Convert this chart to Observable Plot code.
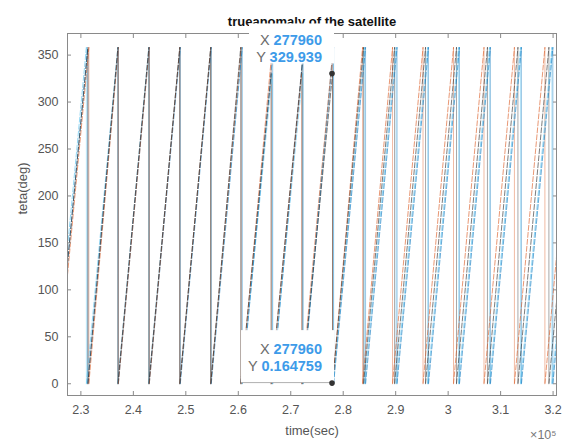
<!DOCTYPE html>
<html><head><meta charset="utf-8">
<script src="https://cdn.jsdelivr.net/npm/d3@7"></script>
<script src="https://cdn.jsdelivr.net/npm/@observablehq/plot@0.6"></script>
<style>
body{margin:0;background:#fff;}
#chart{width:567px;height:441px;}
</style></head><body><div id="chart"></div>
<script>
// ---- data ----
const xDomain = [227450, 320650];
const yDomain = [-12.5, 373];
const xTicks = [230000, 240000, 250000, 260000, 270000, 280000, 290000, 300000, 310000, 320000];
const xTickLabels = ["2.3", "2.4", "2.5", "2.6", "2.7", "2.8", "2.9", "3", "3.1", "3.2"];
const yTicks = [0, 50, 100, 150, 200, 250, 300, 350];

const seriesNames = ["lightblue", "blue", "orange", "black"];
// wrap times: value drops from the peak back to ~0
const blueWraps = [231330, 237140, 243040, 248950, 254850, 260750, 266560, 272360, 278170, 284260, 290260, 296260, 302160, 308060, 313970, 319960];
const bluePeaks = [358, 358, 358, 358, 358, 358, 350, 350, 358, 358, 358, 358, 358, 358, 358, 358];
const blueBottoms = [0, 0, 0, 0, 0, 0, 0, 0, 0, 0, 0, 0, 0, 0, 0, 0];
const blueStart = [227450, 128];
const blueEnd = [320650, 41];

const orangeWraps = [231520, 237140, 243040, 248850, 254750, 260560, 266270, 272080, 277960, 283690, 289400, 295210, 301020, 306830, 312630, 318440];
const orangePeaks = [358, 358, 358, 358, 358, 358, 345, 330, 350, 358, 358, 358, 358, 358, 358, 358];
const orangeBottoms = [0, 0, 0, 0, 0, 0, 0, 0, 0.164759, 0, 0, 0, 0, 0, 0, 0];
const orangeStart = [227450, 116];
const orangeEnd = [320650, 135];

const blackWraps = [231330, 237050, 242950, 248850, 254750, 260460, 266270, 272170, 277960, 283880, 289790, 295690, 301590, 307490, 313300, 319200];
const blackPeaks = [358, 358, 358, 358, 358, 358, 330, 340, 329.939, 358, 358, 358, 358, 358, 358, 358];
const blackBottoms = [0, 0, 0, 0, 0, 0, 0, 0, 0, 0, 0, 0, 0, 0, 0, 0];
const blackStart = [227450, 128];
const blackEnd = [320650, 87];

const lightblueWraps = [231050, 237050, 242950, 248850, 254750, 260650, 266460, 272270, 278080, 284070, 290070, 296070, 301970, 307870, 313780, 319770];
const lightbluePeaks = [358, 358, 358, 358, 358, 358, 330, 330, 358, 358, 358, 358, 358, 358, 358, 358];
const lightblueBottoms = [0, 0, 0, 0, 0, 0, 0, 0, 0, 0, 0, 0, 0, 0, 0, 0];
const lightblueStart = [227450, 145];
const lightblueEnd = [320650, 52];

// datatips
const tipX = [277960, 277960];
const tipY = [329.939, 0.164759];
const tipXText = ["277960", "277960"];
const tipYText = ["329.939", "0.164759"];

const titleText = "trueanomaly of the satellite";
const xLabel = "time(sec)";
const yLabel = "teta(deg)";

// ---- build tables from the arrays ----
const series = {
  lightblue: [lightblueStart, lightblueWraps, lightbluePeaks, lightblueBottoms, lightblueEnd],
  black: [blackStart, blackWraps, blackPeaks, blackBottoms, blackEnd],
  blue: [blueStart, blueWraps, bluePeaks, blueBottoms, blueEnd],
  orange: [orangeStart, orangeWraps, orangePeaks, orangeBottoms, orangeEnd]
};
const rises = [];   // rising parts of each cycle
const drops = [];   // vertical wrap-around drops
seriesNames.forEach(name => {
  const [start, wraps, peaks, bottoms, end] = series[name];
  let prev = {t: start[0], v: start[1]};
  wraps.forEach((w, i) => {
    const key = name + i;
    rises.push({s: name, k: key, t: prev.t, v: prev.v});
    rises.push({s: name, k: key, t: w, v: peaks[i]});
    drops.push({s: name, t: w, top: peaks[i], bottom: bottoms[i]});
    prev = {t: w, v: bottoms[i]};
  });
  rises.push({s: name, k: name + "end", t: prev.t, v: prev.v});
  rises.push({s: name, k: name + "end", t: end[0], v: end[1]});
});

const colors = {blue: "#0072BD", orange: "#D95319", black: "#262626", lightblue: "#4DBEEE"};

function datatips(index, scales) {
  const g = d3.create("svg:g").attr("font-family", "'Liberation Sans', Arial, sans-serif");
  tipX.forEach((tx, i) => {
    const px = scales.x(tx), py = scales.y(tipY[i]);
    const b = i === 0 ? {l: 83, r: -2, t: 50, b: 10} : {l: 91, r: -2, t: 53, b: 1};
    g.append("rect").attr("x", px - b.l).attr("y", py - b.t)
      .attr("width", b.l - b.r).attr("height", b.t - b.b).attr("fill", "white");
    if (i === 1) {
      g.append("line").attr("x1", px - b.l).attr("x2", px).attr("y1", py - 0.5).attr("y2", py - 0.5)
        .attr("stroke", "#b0b0b0").attr("stroke-width", 1);
    }
    const rows = [["X", tipXText[i], -34], ["Y", tipYText[i], -17]];
    rows.forEach(([lab, val, dy]) => {
      const t = g.append("text").attr("x", px - 10).attr("y", py + dy).attr("dy", "0.35em")
        .attr("text-anchor", "end").attr("font-size", 14.5);
      t.append("tspan").attr("fill", "#6b6b6b").text(lab + " ");
      t.append("tspan").attr("fill", "#3d9be9").attr("font-weight", "bold").text(val);
    });
    g.append("circle").attr("cx", px).attr("cy", py).attr("r", 2.8).attr("fill", "#333");
  });
  return g.node();
}

const plot = Plot.plot({
  width: 567,
  height: 441,
  marginTop: 33,
  marginRight: 11,
  marginBottom: 46,
  marginLeft: 67,
  style: {fontFamily: "'Liberation Sans', Arial, sans-serif", background: "white"},
  x: {domain: xDomain},
  y: {domain: yDomain},
  marks: [
    Plot.text([titleText], {frameAnchor: "top", dy: -17, text: d => d, fontWeight: "bold", fontSize: 13, fill: "#111"}),
    Plot.ruleX(drops, {x: "t", y1: "bottom", y2: "top", stroke: d => colors[d.s], strokeWidth: 1, strokeOpacity: 0.4, clip: true}),
    Plot.line(rises, {x: "t", y: "v", z: "k", stroke: d => colors[d.s], strokeWidth: 1, strokeOpacity: 0.6, strokeDasharray: "5,2", clip: true}),
    Plot.frame({stroke: "#8a8a8a"}),
    Plot.axisX({anchor: "bottom", ticks: xTicks, tickSize: -4, tickPadding: 14, tickFormat: d => xTickLabels[xTicks.indexOf(d)], fontSize: 12.5, color: "#555", stroke: "#8a8a8a", label: null}),
    Plot.axisX({anchor: "top", ticks: xTicks, tickSize: -4, tickFormat: () => "", stroke: "#8a8a8a", label: null}),
    Plot.axisY({anchor: "left", ticks: yTicks, tickSize: -4, tickPadding: 13, fontSize: 12.5, color: "#555", stroke: "#8a8a8a", label: null}),
    Plot.axisY({anchor: "right", ticks: yTicks, tickSize: -4, tickFormat: () => "", stroke: "#8a8a8a", label: null}),
    Plot.text([xLabel], {frameAnchor: "bottom", dy: 39, text: d => d, fontSize: 13, fill: "#555"}),
    Plot.text([yLabel], {frameAnchor: "left", dx: -45, rotate: -90, text: d => d, fontSize: 13, fill: "#555"}),
    Plot.text(["×10⁵"], {frameAnchor: "bottom-right", dy: 43, dx: 0, textAnchor: "end", text: d => d, fontSize: 12.5, fill: "#777"}),
    datatips
  ]
});
document.getElementById("chart").appendChild(plot);
</script>
</body></html>
